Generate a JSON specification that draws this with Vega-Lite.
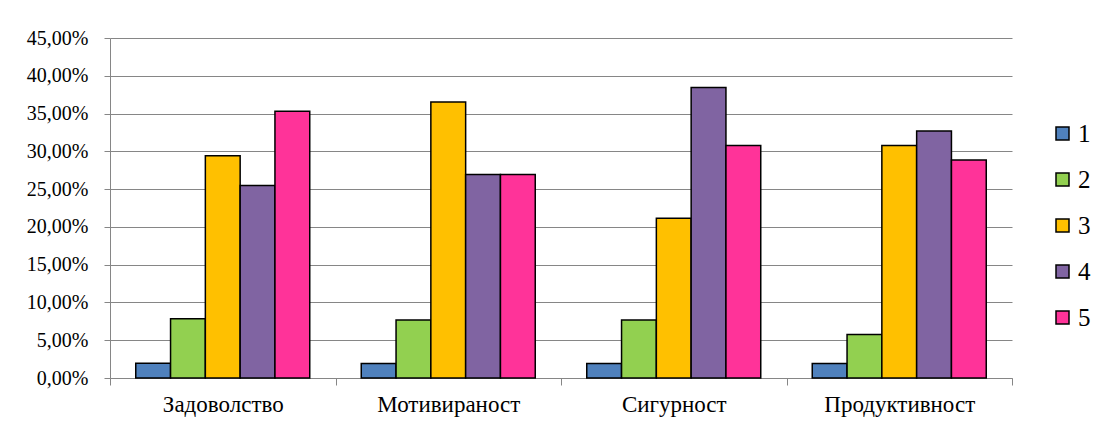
{
  "$schema": "https://vega.github.io/schema/vega-lite/v6.json",
  "autosize": "none",
  "width": 902,
  "height": 340,
  "padding": {"left": 110, "top": 38, "right": 89, "bottom": 53},
  "background": "white",
  "config": {
    "locale": {"number": {"decimal": ",", "thousands": ".", "grouping": [3], "currency": ["", " €"]}},
    "font": "Times New Roman, Liberation Serif, DejaVu Serif, serif",
    "axis": {"labelFont": "Times New Roman, Liberation Serif, DejaVu Serif, serif"},
    "legend": {"labelFont": "Times New Roman, Liberation Serif, DejaVu Serif, serif"},
    "view": {"stroke": null}
  },
  "data": {
    "values": [
      {"category": "Задоволство", "group": "1", "value": 0.0196},
      {"category": "Задоволство", "group": "2", "value": 0.0784},
      {"category": "Задоволство", "group": "3", "value": 0.2941},
      {"category": "Задоволство", "group": "4", "value": 0.2549},
      {"category": "Задоволство", "group": "5", "value": 0.3529},
      {"category": "Мотивираност", "group": "1", "value": 0.0192},
      {"category": "Мотивираност", "group": "2", "value": 0.0769},
      {"category": "Мотивираност", "group": "3", "value": 0.3654},
      {"category": "Мотивираност", "group": "4", "value": 0.2692},
      {"category": "Мотивираност", "group": "5", "value": 0.2692},
      {"category": "Сигурност", "group": "1", "value": 0.0192},
      {"category": "Сигурност", "group": "2", "value": 0.0769},
      {"category": "Сигурност", "group": "3", "value": 0.2115},
      {"category": "Сигурност", "group": "4", "value": 0.3846},
      {"category": "Сигурност", "group": "5", "value": 0.3077},
      {"category": "Продуктивност", "group": "1", "value": 0.0192},
      {"category": "Продуктивност", "group": "2", "value": 0.0577},
      {"category": "Продуктивност", "group": "3", "value": 0.3077},
      {"category": "Продуктивност", "group": "4", "value": 0.3269},
      {"category": "Продуктивност", "group": "5", "value": 0.2885}
    ]
  },
  "mark": {"type": "bar", "stroke": "black", "strokeWidth": 1.5},
  "encoding": {
    "x": {
      "field": "category",
      "type": "nominal",
      "sort": null,
      "scale": {"paddingInner": 0, "paddingOuter": 0},
      "axis": {
        "title": null,
        "labelAngle": 0,
        "labelFontSize": 23,
        "labelColor": "black",
        "labelPadding": 8,
        "tickBand": "extent",
        "tickSize": 7,
        "tickColor": "#868686",
        "domainColor": "#868686",
        "domainWidth": 1
      }
    },
    "xOffset": {
      "field": "group",
      "type": "nominal",
      "scale": {"paddingInner": 0, "paddingOuter": 0.74}
    },
    "y": {
      "field": "value",
      "type": "quantitative",
      "scale": {"domain": [0, 0.45], "nice": false},
      "axis": {
        "title": null,
        "format": ".2%",
        "values": [0, 0.05, 0.1, 0.15, 0.2, 0.25, 0.3, 0.35, 0.4, 0.45],
        "labelFontSize": 20,
        "labelColor": "black",
        "labelPadding": 16,
        "tickSize": 6,
        "tickColor": "#868686",
        "domain": true,
        "domainColor": "#868686",
        "gridColor": "#868686",
        "gridWidth": 1,
        "gridOpacity": 1
      }
    },
    "fill": {
      "field": "group",
      "type": "nominal",
      "scale": {
        "domain": ["1", "2", "3", "4", "5"],
        "range": ["#4F81BD", "#92D050", "#FFC000", "#8064A2", "#FF3399"]
      },
      "legend": {
        "title": null,
        "orient": "none",
        "legendX": 940,
        "legendY": 83,
        "symbolType": "square",
        "symbolSize": 169,
        "symbolStrokeColor": "black",
        "symbolStrokeWidth": 1.5,
        "labelFontSize": 25,
        "labelColor": "black",
        "labelOffset": 3,
        "rowPadding": 20
      }
    }
  }
}
